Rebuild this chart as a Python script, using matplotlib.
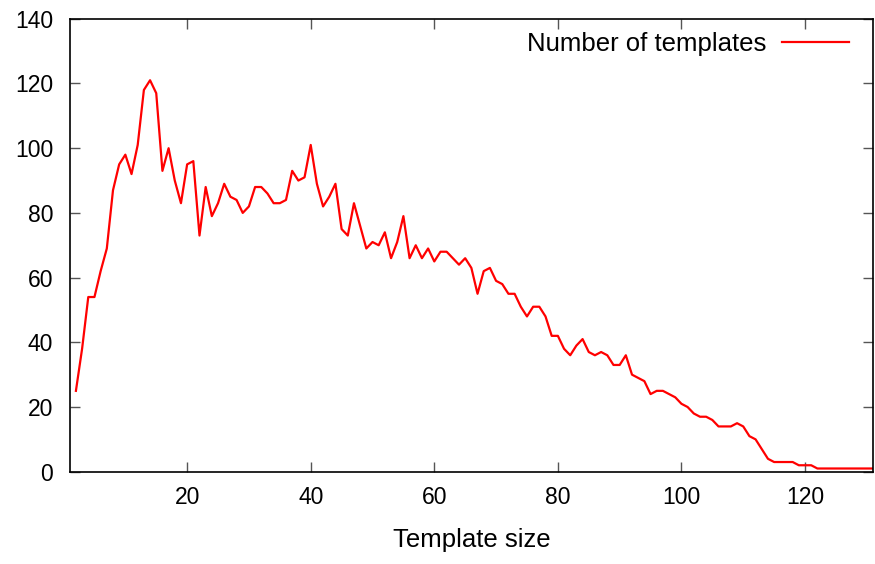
import matplotlib
matplotlib.use("Agg")
import matplotlib.pyplot as plt

# template sizes 2..131 and the number of templates for each
sizes = list(range(2, 132))
counts = [25, 38, 54, 54, 62, 69, 87, 95, 98, 92, 101, 118, 121, 117, 93, 100, 90, 83, 95, 96,
          73, 88, 79, 83, 89, 85, 84, 80, 82, 88, 88, 86, 83, 83, 84, 93, 90, 91, 101, 89,
          82, 85, 89, 75, 73, 83, 76, 69, 71, 70, 74, 66, 71, 79, 66, 70, 66, 69, 65, 68,
          68, 66, 64, 66, 63, 55, 62, 63, 59, 58, 55, 55, 51, 48, 51, 51, 48, 42, 42, 38,
          36, 39, 41, 37, 36, 37, 36, 33, 33, 36, 30, 29, 28, 24, 25, 25, 24, 23, 21, 20,
          18, 17, 17, 16, 14, 14, 14, 15, 14, 11, 10, 7, 4, 3, 3, 3, 3, 2, 2, 2,
          1, 1, 1, 1, 1, 1, 1, 1, 1, 1]
xticks = [20, 40, 60, 80, 100, 120]
yticks = [0, 20, 40, 60, 80, 100, 120, 140]

plt.rcParams['font.family'] = ['Liberation Sans', 'DejaVu Sans']
fig = plt.figure(figsize=(8.75, 5.64), dpi=100)
ax = fig.add_axes([0.0797, 0.1636, 0.918, 0.8031])
ax.plot(sizes, counts, color="#ff0000", linewidth=1.6, label="Number of templates")
ax.set_xlim(1, 131)
ax.set_ylim(0, 140)
ax.set_xticks(xticks)
ax.set_yticks(yticks)
ax.tick_params(direction="in", length=7, width=1, color="#555555", top=True, right=True,
               labelsize=16.5)
ax.tick_params(axis="y", pad=12)
ax.tick_params(axis="x", pad=10)
for s in ax.spines.values():
    s.set_linewidth(1.2)
ax.set_xlabel("Template size", fontsize=18.5, labelpad=14)
ax.legend(loc="upper right", frameon=False, markerfirst=False, fontsize=18.5,
          handlelength=2.6, handletextpad=0.6, borderaxespad=0.0,
          bbox_to_anchor=(0.983, 0.993))
fig.savefig("out.png", dpi=100)
